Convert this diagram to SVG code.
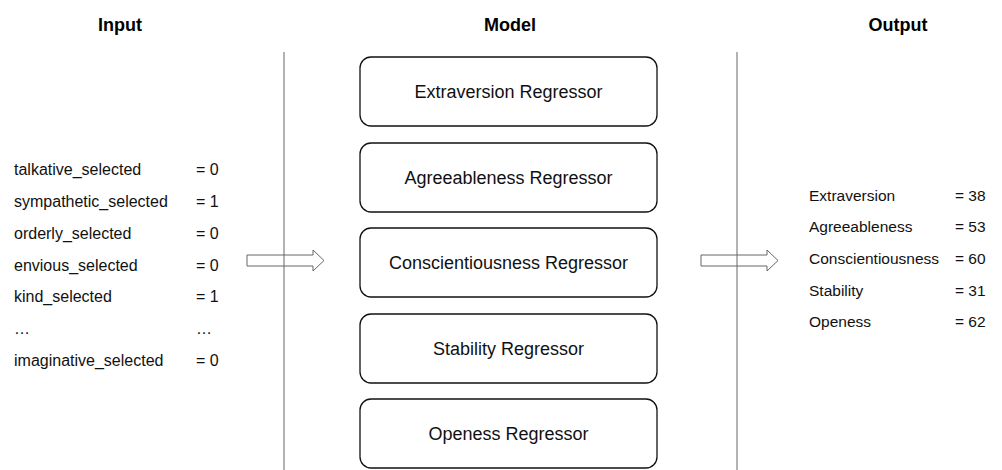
<svg xmlns="http://www.w3.org/2000/svg" width="1002" height="470" viewBox="0 0 1002 470">
<style>
  .hdr { font-family: "Liberation Sans", Arial, sans-serif; font-weight: bold; font-size: 18px; fill: #000; text-anchor: middle; }
  .lbl { font-family: "Liberation Sans", Arial, sans-serif; font-size: 16px; fill: #111; }
  .out { font-family: "Liberation Sans", Arial, sans-serif; font-size: 15.5px; fill: #111; }
  .box { fill: #fff; stroke: #111; stroke-width: 1.3; }
  .btxt { font-family: "Liberation Sans", Arial, sans-serif; font-size: 18px; fill: #111; text-anchor: middle; }
  .sep { stroke: #666; stroke-width: 1; }
  .arrow { fill: #fff; stroke: #666; stroke-width: 1; }
</style>
<rect width="1002" height="470" fill="#fff"/>

<g id="headers">
  <text class="hdr" x="120" y="31">Input</text>
  <text class="hdr" x="510" y="31">Model</text>
  <text class="hdr" x="898" y="31">Output</text>
</g>

<g id="input">
  <text class="lbl" x="14" y="175">talkative_selected</text><text class="lbl" x="196" y="175">= 0</text>
  <text class="lbl" x="14" y="207">sympathetic_selected</text><text class="lbl" x="196" y="207">= 1</text>
  <text class="lbl" x="14" y="238.5">orderly_selected</text><text class="lbl" x="196" y="238.5">= 0</text>
  <text class="lbl" x="14" y="270.5">envious_selected</text><text class="lbl" x="196" y="270.5">= 0</text>
  <text class="lbl" x="14" y="302">kind_selected</text><text class="lbl" x="196" y="302">= 1</text>
  <text class="lbl" x="14" y="334">…</text><text class="lbl" x="196" y="334">…</text>
  <text class="lbl" x="14" y="366">imaginative_selected</text><text class="lbl" x="196" y="366">= 0</text>
</g>

<g id="connectors">
  <polygon class="arrow" points="247,255 313,255 313,250 324,260.5 313,271 313,266 247,266"/>
  <polygon class="arrow" points="701,255 767,255 767,250 778,260.5 767,271 767,266 701,266"/>
  <line class="sep" x1="284" y1="52" x2="284" y2="470"/>
  <line class="sep" x1="737" y1="52" x2="737" y2="470"/>
</g>

<g id="extraversion-regressor">
  <rect class="box" x="360" y="57" width="297" height="69" rx="11"/>
  <text class="btxt" x="508.5" y="97.5">Extraversion Regressor</text>
</g>
<g id="agreeableness-regressor">
  <rect class="box" x="360" y="143" width="297" height="69" rx="11"/>
  <text class="btxt" x="508.5" y="183.5">Agreeableness Regressor</text>
</g>
<g id="conscientiousness-regressor">
  <rect class="box" x="360" y="228" width="297" height="69" rx="11"/>
  <text class="btxt" x="508.5" y="268.5">Conscientiousness Regressor</text>
</g>
<g id="stability-regressor">
  <rect class="box" x="360" y="314" width="297" height="69" rx="11"/>
  <text class="btxt" x="508.5" y="354.5">Stability Regressor</text>
</g>
<g id="openess-regressor">
  <rect class="box" x="360" y="399" width="297" height="69" rx="11"/>
  <text class="btxt" x="508.5" y="439.5">Openess Regressor</text>
</g>

<g id="output">
  <text class="out" x="809" y="201">Extraversion</text><text class="out" x="955" y="201">= 38</text>
  <text class="out" x="809" y="232">Agreeableness</text><text class="out" x="955" y="232">= 53</text>
  <text class="out" x="809" y="264">Conscientiousness</text><text class="out" x="955" y="264">= 60</text>
  <text class="out" x="809" y="295.5">Stability</text><text class="out" x="955" y="295.5">= 31</text>
  <text class="out" x="809" y="327">Openess</text><text class="out" x="955" y="327">= 62</text>
</g>
</svg>
